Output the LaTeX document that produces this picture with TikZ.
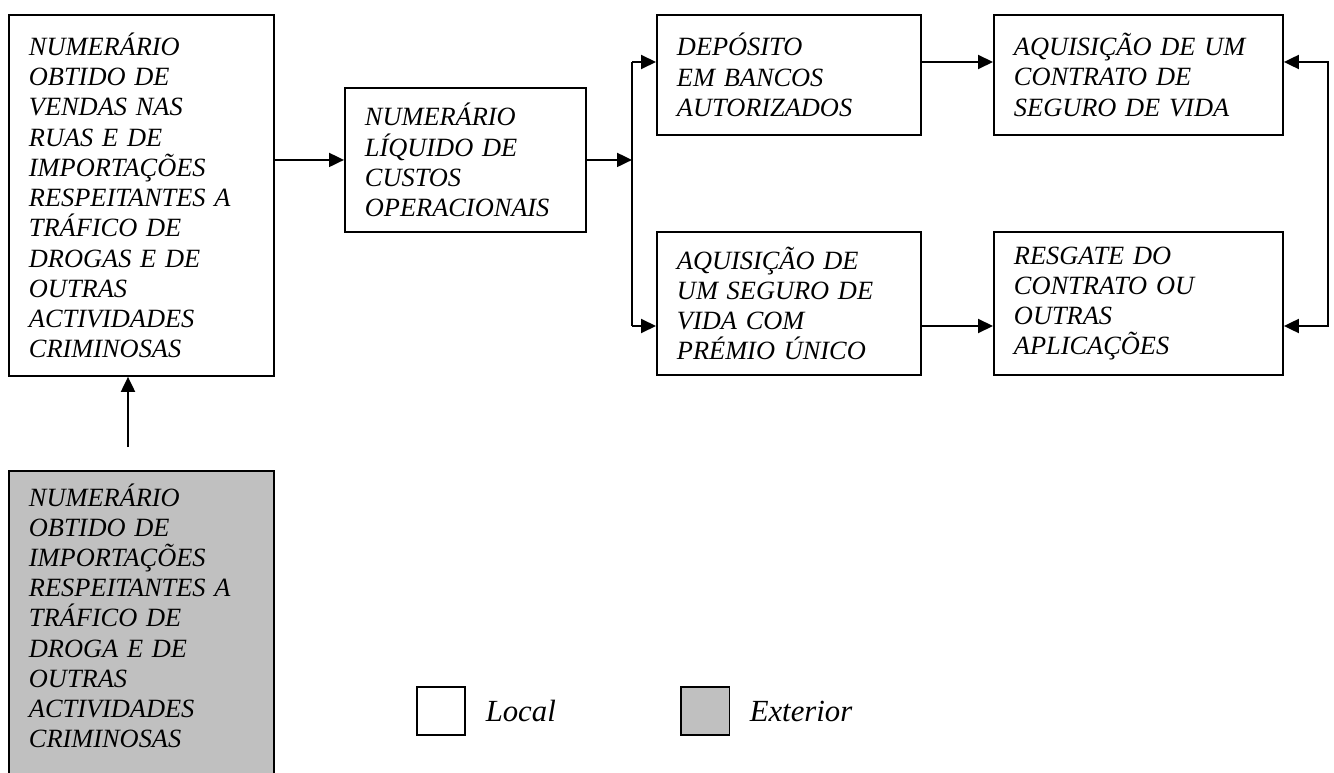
\documentclass[tikz,border=0pt]{standalone}
\usepackage{fontspec}
\setmainfont{Liberation Serif}
\usetikzlibrary{arrows.meta,positioning}
\definecolor{cinza}{RGB}{192,192,192}

\begin{document}
\begin{tikzpicture}[x=0.02cm, y=-0.02cm,
    caixa/.style={draw, line width=1.1pt, rectangle, anchor=north west, align=left, inner xsep=0.4cm, font=\fontsize{15}{17.2}\selectfont\itshape},
    legenda/.style={draw, line width=1.1pt, rectangle, minimum size=0.97cm, inner sep=0pt, anchor=north west},
    rotulo/.style={inner sep=0pt, font=\fontsize{17.5}{20}\selectfont\itshape},
    seta/.style={line width=1.1pt, -{Triangle[length=0.3cm, width=0.28cm]}},
    dupla/.style={line width=1.1pt, {Triangle[length=0.3cm, width=0.28cm]}-{Triangle[length=0.3cm, width=0.28cm]}}]
    \clip (0,0) rectangle (1334,773);

    % Boxes
    \node[caixa, text width=4.5cm, minimum height=7.22cm] (rua) at (8,14) {NUMERÁRIO\\OBTIDO DE\\VENDAS NAS\\RUAS E DE\\IMPORTAÇÕES\\RESPEITANTES A\\TRÁFICO DE\\DROGAS E DE\\OUTRAS\\ACTIVIDADES\\CRIMINOSAS};
    \node[caixa, text width=4.02cm, minimum height=2.88cm] (liquido) at (344,87) {NUMERÁRIO\\LÍQUIDO DE\\CUSTOS\\OPERACIONAIS};
    \node[caixa, text width=4.48cm, minimum height=2.4cm] (deposito) at (656,14) {DEPÓSITO\\EM BANCOS\\AUTORIZADOS};
    \node[caixa, text width=4.98cm, minimum height=2.4cm] (contrato) at (993,14) {AQUISIÇÃO DE UM\\CONTRATO DE\\SEGURO DE VIDA};
    \node[caixa, text width=4.48cm, minimum height=2.86cm] (premio) at (656,231) {AQUISIÇÃO DE\\UM SEGURO DE\\VIDA COM\\PRÉMIO ÚNICO};
    \node[caixa, text width=4.98cm, minimum height=2.86cm] (resgate) at (993,231) {RESGATE DO\\CONTRATO OU\\OUTRAS\\APLICAÇÕES};
    \node[caixa, fill=cinza, text width=4.5cm, inner ysep=0.25cm, text depth=6cm] (externo) at (8,470) {NUMERÁRIO\\OBTIDO DE\\IMPORTAÇÕES\\RESPEITANTES A\\TRÁFICO DE\\DROGA E DE\\OUTRAS\\ACTIVIDADES\\CRIMINOSAS};

    % Legend
    \node[legenda] (lgLocal) at (416,686) {};
    \node[rotulo, right=0.38cm of lgLocal] (txLocal) {Local};
    \node[legenda, fill=cinza] (lgExt) at (680,686) {};
    \node[rotulo, right=0.38cm of lgExt] (txExt) {Exterior};

    % Branch points
    \coordinate (ramoCima) at (632,62);
    \coordinate (ramoBaixo) at (632,326);
    \coordinate (volta) at (1328,62);
    \coordinate (baseSeta) at (128,447);

    % Links
    \draw[seta] (rua.east |- liquido.west) -- (liquido.west);
    \draw[seta] (liquido.east) -- (liquido.east -| ramoCima);
    \draw[line width=1.1pt] (ramoCima) -- (ramoBaixo);
    \draw[seta] (ramoCima) -- (ramoCima -| deposito.west);
    \draw[seta] (ramoBaixo) -- (ramoBaixo -| premio.west);
    \draw[seta] (ramoCima -| deposito.east) -- (ramoCima -| contrato.west);
    \draw[seta] (ramoBaixo -| premio.east) -- (ramoBaixo -| resgate.west);
    \draw[dupla] (volta -| contrato.east) -- (volta) -- (volta |- ramoBaixo) -- (ramoBaixo -| resgate.east);
    \draw[seta] (baseSeta) -- (baseSeta |- rua.south);
\end{tikzpicture}
\end{document}
